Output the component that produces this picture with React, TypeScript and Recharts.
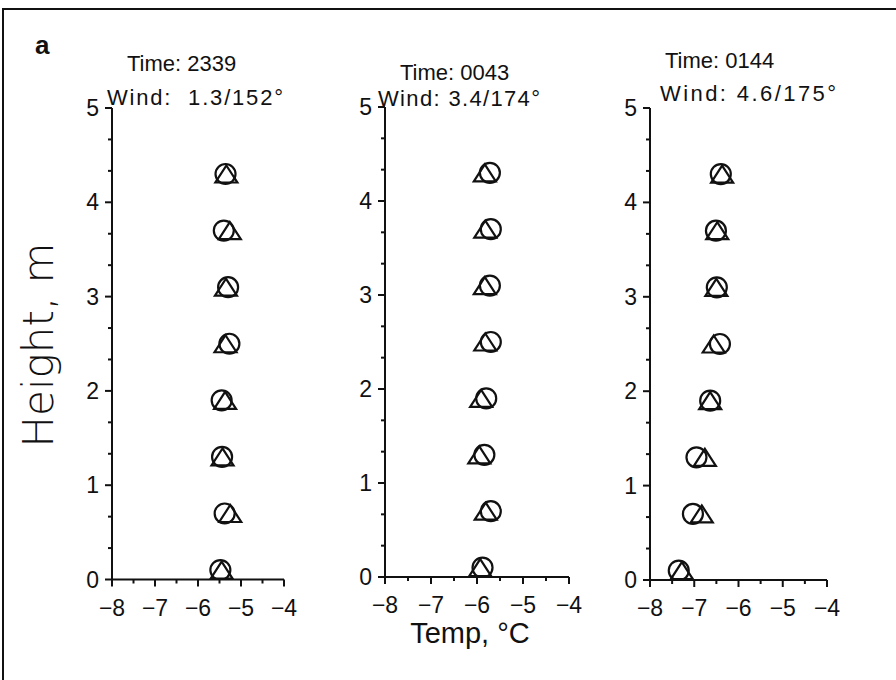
import { Scatter, ScatterChart, XAxis, YAxis } from 'recharts';

// heights of the sensors (m)
const HEIGHTS = [0.1, 0.7, 1.3, 1.9, 2.5, 3.1, 3.7, 4.3];

const TEMP_TICKS = [-8, -7.5, -7, -6.5, -6, -5.5, -5, -4.5, -4];
const HEIGHT_TICKS = [0, 1 / 3, 2 / 3, 1, 4 / 3, 5 / 3, 2, 7 / 3, 8 / 3, 3, 10 / 3, 11 / 3, 4, 13 / 3, 14 / 3, 5];

const PANEL_TIMES = ['2339', '0043', '0144'];
const PANEL_WINDS = ['Wind:  1.3/152°', 'Wind: 3.4/174°', 'Wind: 4.6/175°'];

// circle / triangle temps, bottom to top
const CIRCLE_2339 = [-5.48, -5.38, -5.44, -5.45, -5.27, -5.3, -5.4, -5.36];
const TRIANGLE_2339 = [-5.45, -5.25, -5.43, -5.37, -5.36, -5.35, -5.26, -5.34];
const CIRCLE_0043 = [-5.88, -5.7, -5.84, -5.8, -5.7, -5.72, -5.7, -5.72];
const TRIANGLE_0043 = [-5.93, -5.81, -5.95, -5.91, -5.82, -5.83, -5.82, -5.83];
const CIRCLE_0144 = [-7.35, -7.03, -6.95, -6.64, -6.42, -6.49, -6.51, -6.4];
const TRIANGLE_0144 = [-7.28, -6.83, -6.76, -6.64, -6.56, -6.5, -6.48, -6.37];

const INK = '#111';
const SANS = '"Liberation Sans", Arial, sans-serif';

const toPoints = (temps: number[]) => temps.map((t, i) => ({ temp: t, height: HEIGHTS[i] }));
const isWhole = (v: number) => Math.abs(v - Math.round(v)) < 1e-6;

function XTick({ x, y, payload }: any) {
  const v = payload.value;
  const major = isWhole(v);
  return (
    <g>
      <line x1={x} x2={x} y1={y} y2={y + (major ? 7 : 4)} stroke={INK} strokeWidth={2} />
      {major && (
        <text x={x} y={y + 36} textAnchor="middle" fontSize={23} fontFamily={SANS} fill={INK}>
          {`\u2212${Math.abs(v)}`}
        </text>
      )}
    </g>
  );
}

function YTick({ x, y, payload }: any) {
  const v = payload.value;
  const major = isWhole(v);
  return (
    <g>
      <line x1={x - (major ? 7 : 4)} x2={x} y1={y} y2={y} stroke={INK} strokeWidth={2} />
      {major && (
        <text x={x - 13} y={y + 8} textAnchor="end" fontSize={23} fontFamily={SANS} fill={INK}>
          {Math.round(v)}
        </text>
      )}
    </g>
  );
}

const CircleMark = ({ cx, cy }: any) => (
  <circle cx={cx} cy={cy} r={10} fill="none" stroke={INK} strokeWidth={2.2} />
);

const TriangleMark = ({ cx, cy }: any) => (
  <path
    d={`M${cx},${cy - 8.5} L${cx + 11},${cy + 8.5} L${cx - 11},${cy + 8.5} Z`}
    fill="none"
    stroke={INK}
    strokeWidth={2.2}
  />
);

type PanelProps = {
  circles: number[];
  triangles: number[];
  plotX: number;
  plotY: number;
  plotW: number;
  plotH: number;
};

function Panel({ circles, triangles, plotX, plotY, plotW, plotH }: PanelProps) {
  return (
    <div style={{ position: 'absolute', left: plotX - 40, top: plotY - 20 }}>
      <ScatterChart
        width={40 + plotW + 20}
        height={20 + plotH + 45}
        margin={{ top: 20, right: 20, left: 0, bottom: 0 }}
      >
        <XAxis
          type="number"
          dataKey="temp"
          domain={[-8, -4]}
          ticks={TEMP_TICKS}
          interval={0}
          allowDataOverflow
          height={45}
          tickSize={0}
          tickMargin={0}
          tickLine={false}
          axisLine={{ stroke: INK, strokeWidth: 2 }}
          tick={(p: any) => <XTick {...p} />}
        />
        <YAxis
          type="number"
          dataKey="height"
          domain={[0, 5]}
          ticks={HEIGHT_TICKS}
          interval={0}
          allowDataOverflow
          width={40}
          tickSize={0}
          tickMargin={0}
          tickLine={false}
          axisLine={{ stroke: INK, strokeWidth: 2 }}
          tick={(p: any) => <YTick {...p} />}
        />
        <Scatter data={toPoints(circles)} shape={CircleMark} isAnimationActive={false} />
        <Scatter data={toPoints(triangles)} shape={TriangleMark} isAnimationActive={false} />
      </ScatterChart>
    </div>
  );
}

export default function App() {
  return (
    <div
      style={{
        position: 'absolute',
        left: 0,
        top: 0,
        width: 896,
        height: 680,
        overflow: 'hidden',
        background: '#fff',
      }}
    >
      <Panel circles={CIRCLE_2339} triangles={TRIANGLE_2339} plotX={112} plotY={107.5} plotW={172} plotH={471.5} />
      <Panel circles={CIRCLE_0043} triangles={TRIANGLE_0043} plotX={385} plotY={107} plotW={184} plotH={470} />
      <Panel circles={CIRCLE_0144} triangles={TRIANGLE_0144} plotX={650} plotY={108} plotW={177} plotH={472} />

      {/* frame + titles on top */}
      <svg
        width={896}
        height={680}
        style={{ position: 'absolute', left: 0, top: 0, pointerEvents: 'none' }}
      >
        <rect x={3} y={9} width={1000} height={1000} fill="none" stroke={INK} strokeWidth={2} />
        <text x={35} y={54} fontSize={26} fontWeight="bold" fontFamily={SANS} fill={INK}>
          a
        </text>

        <text x={127} y={71} fontSize={22} fontFamily={SANS} fill={INK}>{`Time: ${PANEL_TIMES[0]}`}</text>
        <text
          x={107}
          y={105}
          fontSize={22}
          fontFamily={SANS}
          fill={INK}
          textLength={176}
          lengthAdjust="spacing"
          style={{ whiteSpace: 'pre' }}
        >
          {PANEL_WINDS[0]}
        </text>
        <text x={400} y={80} fontSize={22} fontFamily={SANS} fill={INK}>{`Time: ${PANEL_TIMES[1]}`}</text>
        <text x={378} y={106} fontSize={22} fontFamily={SANS} fill={INK} textLength={162} lengthAdjust="spacing">
          {PANEL_WINDS[1]}
        </text>
        <text x={665} y={68} fontSize={22} fontFamily={SANS} fill={INK}>{`Time: ${PANEL_TIMES[2]}`}</text>
        <text x={660} y={101} fontSize={22} fontFamily={SANS} fill={INK} textLength={176} lengthAdjust="spacing">
          {PANEL_WINDS[2]}
        </text>

        <text
          transform="translate(38,345) rotate(-90)"
          textAnchor="middle"
          dominantBaseline="central"
          fontSize={42}
          fontWeight={200}
          fontFamily='"DejaVu Sans", sans-serif'
          fill={INK}
        >
          Height, m
        </text>
        <text x={470} y={643} textAnchor="middle" fontSize={29} fontFamily={SANS} fill={INK}>
          Temp, °C
        </text>
      </svg>
    </div>
  );
}
